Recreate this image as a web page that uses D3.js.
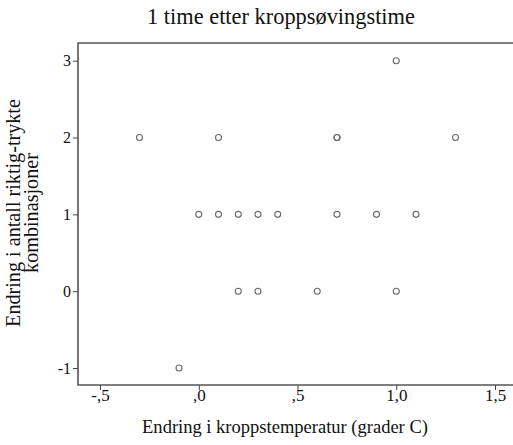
<!DOCTYPE html>
<html>
<head>
<meta charset="utf-8">
<script src="https://cdn.jsdelivr.net/npm/d3@7"></script>
<style>
  body { margin: 0; background: #fff; }
</style>
</head>
<body>
<div id="chart"></div>
<script>
// temperature change (x) and change in correct combinations (y)
const tempChange = [1.0, -0.3, 0.1, 0.7, 0.7, 1.3, 0.0, 0.1, 0.2, 0.3, 0.4, 0.7, 0.9, 1.1, 0.2, 0.3, 0.6, 1.0, -0.1];
const comboChange = [3, 2, 2, 2, 2, 2, 1, 1, 1, 1, 1, 1, 1, 1, 0, 0, 0, 0, -1];
const xTicks = [-0.5, 0, 0.5, 1.0, 1.5];
const yTicks = [-1, 0, 1, 2, 3];

const W = 513, H = 445;
const frame = { left: 78, top: 43, bottom: 385, right: 520 };
const serif = "Liberation Serif";

const svg = d3.select("#chart").append("svg")
    .attr("width", W)
    .attr("height", H);

const x = d3.scaleLinear().domain([-0.5, 1.5]).range([100, 495]);
const y = d3.scaleLinear().domain([-1, 3]).range([368, 60.7]);

const fmtX = d => {
    let s = d3.format(".1f")(Math.abs(d)).replace(".", ",");
    if (s.startsWith("0")) s = s.slice(1);
    return (d < 0 ? "-" : "") + s;
};
const fmtY = d => (d < 0 ? "-" : "") + Math.abs(d);

// scale a text's font size so it spans roughly the wanted width
function fitText(sel, node, width) {
    const fs = +sel.attr("font-size");
    const len = node.getComputedTextLength();
    sel.attr("font-size", (fs * width / len).toFixed(2));
}

// frame (top + left + bottom; right side runs off the picture)
svg.append("path")
    .attr("d", `M${frame.right},${frame.top}H${frame.left}V${frame.bottom}H${frame.right}`)
    .attr("fill", "none")
    .attr("stroke", "#555")
    .attr("stroke-width", 1.6);

// x axis
const xAxis = svg.append("g")
    .attr("transform", `translate(0,${frame.bottom})`)
    .call(d3.axisBottom(x).tickValues(xTicks).tickFormat(fmtX).tickSize(5).tickPadding(-1));
xAxis.attr("font-family", serif).attr("font-size", 17);
xAxis.select(".domain").remove();
xAxis.selectAll("line").attr("stroke", "#444");
xAxis.selectAll("text").attr("fill", "#111");

// y axis
const yAxis = svg.append("g")
    .attr("transform", `translate(${frame.left},0)`)
    .call(d3.axisLeft(y).tickValues(yTicks).tickFormat(fmtY).tickSize(5).tickPadding(2));
yAxis.attr("font-family", serif).attr("font-size", 16);
yAxis.select(".domain").remove();
yAxis.selectAll("line").attr("stroke", "#444");
yAxis.selectAll("text").attr("fill", "#111");

// points
svg.append("g").selectAll("circle")
    .data(tempChange.map((t, i) => [t, comboChange[i]]))
    .join("circle")
    .attr("cx", d => x(d[0]))
    .attr("cy", d => y(d[1]))
    .attr("r", 3)
    .attr("fill", "none")
    .attr("stroke", "#6a6a6a")
    .attr("stroke-width", 1.1);

// title
const title = svg.append("text")
    .attr("x", 281).attr("y", 24)
    .attr("text-anchor", "middle")
    .attr("font-family", serif)
    .attr("font-size", 20)
    .attr("fill", "#111")
    .text("1 time etter kroppsøvingstime");
fitText(title, title.node(), 268);

// x label
const xl = svg.append("text")
    .attr("x", 285).attr("y", 433)
    .attr("text-anchor", "middle")
    .attr("font-family", serif)
    .attr("font-size", 18)
    .attr("fill", "#111")
    .text("Endring i kroppstemperatur (grader C)");
fitText(xl, xl.node(), 286);

// y label (two lines)
const yl = svg.append("text")
    .attr("transform", "translate(20,213) rotate(-90)")
    .attr("text-anchor", "middle")
    .attr("font-family", serif)
    .attr("font-size", 18)
    .attr("fill", "#111");
yl.append("tspan").attr("x", 0).attr("dy", 0).text("Endring i antall riktig-trykte");
yl.append("tspan").attr("x", 0).attr("dy", 18).text("kombinasjoner");
fitText(yl, yl.select("tspan").node(), 228);
</script>
</body>
</html>
